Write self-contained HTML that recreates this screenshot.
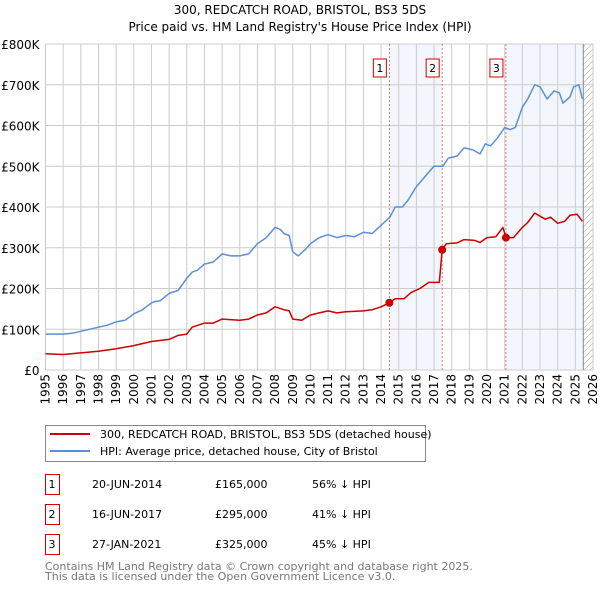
<!DOCTYPE html>
<html><head><meta charset="utf-8"><style>
body{margin:0;background:#fff;font-family:"Liberation Sans","DejaVu Sans",sans-serif;}
svg text{font-family:"DejaVu Sans","Liberation Sans",sans-serif;}
</style></head><body>
<svg id="c" width="600" height="590" xmlns="http://www.w3.org/2000/svg">
<text x="300" y="14" text-anchor="middle" font-size="12">300, REDCATCH ROAD, BRISTOL, BS3 5DS</text>
<text x="300" y="31" text-anchor="middle" font-size="12">Price paid vs. HM Land Registry's House Price Index (HPI)</text>
<g id="plot"></g>
<g>
<rect x="45.5" y="425.5" width="380" height="36" fill="#fff" stroke="#888"/>
<line x1="50" y1="434" x2="90" y2="434" stroke="#cc0000" stroke-width="2"/>
<text x="100" y="438" font-size="11">300, REDCATCH ROAD, BRISTOL, BS3 5DS (detached house)</text>
<line x1="50" y1="451" x2="90" y2="451" stroke="#5b8fd6" stroke-width="2"/>
<text x="100" y="455" font-size="11">HPI: Average price, detached house, City of Bristol</text>
</g>
<g id="tbl" font-size="11"></g>
<text x="45" y="570" font-size="11" fill="#777">Contains HM Land Registry data © Crown copyright and database right 2025.</text>
<text x="45" y="580" font-size="11" fill="#777">This data is licensed under the Open Government Licence v3.0.</text>
</svg>
<script>
const hpiYears=[1995,1996,1996.5,1997,1998,1998.5,1999,1999.5,2000,2000.5,2001,2001.2,2001.5,2002,2002.5,2003,2003.3,2003.6,2004,2004.5,2005,2005.5,2006,2006.5,2007,2007.5,2008,2008.3,2008.5,2008.8,2009,2009.3,2009.7,2010,2010.5,2011,2011.5,2012,2012.5,2013,2013.5,2014,2014.5,2014.8,2015.2,2015.5,2016,2016.5,2017,2017.5,2017.8,2018.3,2018.7,2019.2,2019.6,2019.9,2020.2,2020.6,2021,2021.3,2021.6,2022,2022.3,2022.7,2023,2023.4,2023.8,2024.1,2024.3,2024.7,2024.9,2025.2,2025.4];
const hpiValues=[88,88,90,95,105,110,118,122,138,148,165,168,170,188,195,225,240,245,260,265,285,280,280,285,310,325,350,345,335,330,290,280,295,310,325,332,325,330,327,338,335,355,375,400,400,415,450,475,500,500,520,525,545,540,530,555,550,570,595,590,595,645,665,700,695,665,685,680,655,670,695,700,665];
const ppYears=[1995,1996,1997,1998,1999,2000,2001,2002,2002.5,2003,2003.3,2004,2004.5,2005,2006,2006.5,2007,2007.5,2008,2008.5,2008.8,2009,2009.5,2010,2010.5,2011,2011.5,2012,2013,2013.5,2014,2014.47,2014.8,2015.3,2015.7,2016.2,2016.7,2017.3,2017.46,2017.7,2018.3,2018.7,2019.3,2019.6,2020,2020.5,2020.9,2021.07,2021.5,2022,2022.3,2022.7,2023.3,2023.6,2024,2024.4,2024.7,2025.1,2025.4];
const ppValues=[40,38,42,46,52,60,70,75,85,88,105,115,115,125,122,125,135,140,155,148,145,125,122,135,140,145,140,143,145,148,155,165,175,175,190,200,215,215,295,310,312,320,318,313,325,327,350,325,325,350,362,385,370,375,360,365,380,382,365];
const saleYears=[2014.47,2017.46,2021.07];
const saleValues=[165,295,325];
const saleLabels=["1","2","3"];
const saleDates=["20-JUN-2014","16-JUN-2017","27-JAN-2021"];
const salePrices=["£165,000","£295,000","£325,000"];
const saleDiffs=["56% ↓ HPI","41% ↓ HPI","45% ↓ HPI"];
const yTicks=[0,100,200,300,400,500,600,700,800];
const yTickLabels=["£0","£100K","£200K","£300K","£400K","£500K","£600K","£700K","£800K"];
const xTicks=[1995,1996,1997,1998,1999,2000,2001,2002,2003,2004,2005,2006,2007,2008,2009,2010,2011,2012,2013,2014,2015,2016,2017,2018,2019,2020,2021,2022,2023,2024,2025,2026];
const dataEnd=2025.45;

const NS="http://www.w3.org/2000/svg";
const X0=45.5,X1=593,Y0=370,Y1=44;
const xs=y=>X0+(y-1995)/(2026-1995)*(X1-X0);
const ys=v=>Y0-v/800*(Y0-Y1);
const plot=document.getElementById('plot');
function mk(tag,attrs,parent){const e=document.createElementNS(NS,tag);for(const k in attrs)e.setAttribute(k,attrs[k]);(parent||plot).appendChild(e);return e;}
let s1=mk('rect',{x:xs(saleYears[0]),y:Y1,width:xs(saleYears[1])-xs(saleYears[0]),height:Y0-Y1,fill:'#eef3fc',opacity:0.7});


let s2=mk('rect',{x:xs(saleYears[2]),y:Y1,width:xs(dataEnd)-xs(saleYears[2]),height:Y0-Y1,fill:'#eef3fc',opacity:0.7});


const defs=mk('defs',{});
const pat=mk('pattern',{id:'h',width:6,height:6,patternUnits:'userSpaceOnUse'},defs);
mk('path',{d:'M0,6 L6,0',stroke:'#bbb','stroke-width':0.7},pat);
let hz=mk('rect',{x:xs(dataEnd),y:Y1,width:X1-xs(dataEnd),height:Y0-Y1,fill:'url(#h)'});


xTicks.forEach((t,i)=>{
 const g=mk('line',{x1:xs(t),x2:xs(t),y1:Y1,y2:Y0,stroke:'#ccc','stroke-width':1});
 
 
 const x=xs(t);
 const tx=mk('text',{x:0,y:0,'font-size':12,'text-anchor':'end',transform:`translate(${x+4},${Y0+4}) rotate(-90)`});
 tx.textContent=t;
 
 
});
yTicks.forEach((t,i)=>{
 const g=mk('line',{x1:X0,x2:X1,y1:ys(t),y2:ys(t),stroke:'#ccc','stroke-width':1});
 
 
 const tx=mk('text',{x:X0-6,y:ys(t)+5,'font-size':12,'text-anchor':'end'});
 tx.textContent=yTickLabels[i];
 
 
});
let dl=mk('line',{x1:xs(dataEnd),x2:xs(dataEnd),y1:Y1,y2:Y0,stroke:'#888','stroke-width':1});


saleYears.forEach((y,i)=>{
 const l=mk('line',{x1:xs(y),x2:xs(y),y1:Y1,y2:Y0,stroke:'#e05555','stroke-width':0.8,'stroke-dasharray':'2,2'});
 
 
 const r=mk('rect',{x:xs(y)-16,y:59,width:13,height:18,fill:'#fff',stroke:'#cc0000'});
 
 
 const t=mk('text',{x:xs(y)-9.5,y:72,'font-size':11,'text-anchor':'middle'});
 t.textContent=saleLabels[i];
 
 
});
function path(xa,va,color,name){
 const d=xa.map((x,i)=>(i?'L':'M')+xs(x).toFixed(1)+','+ys(va[i]).toFixed(1)).join(' ');
 const p=mk('path',{d,fill:'none',stroke:color,'stroke-width':1.5,'stroke-linejoin':'round'});
 
 
}
path(hpiYears,hpiValues,'#5b8fd6','hpi-line');
path(ppYears,ppValues,'#cc0000','price-paid-line');
saleYears.forEach((y,i)=>{
 const c=mk('circle',{cx:xs(y),cy:ys(saleValues[i]),r:4,fill:'#cc0000'});
 
 
});
const tbl=document.getElementById('tbl');
saleLabels.forEach((l,i)=>{
 const y=483+i*30;
 const r=mk('rect',{x:45.5,y:y-8.5,width:14,height:20,fill:'#fff',stroke:'#cc0000'},tbl);
 
 
 const cols=[[52,l,'middle'],[92,saleDates[i],'start'],[215,salePrices[i],'start'],[312,saleDiffs[i],'start']];
 cols.forEach(([x,txt,a],j)=>{
  const t=mk('text',{x,y:y+5,'text-anchor':a,'font-size':11},tbl);
  t.textContent=txt;
  
  
 });
});
</script>
</body></html>
